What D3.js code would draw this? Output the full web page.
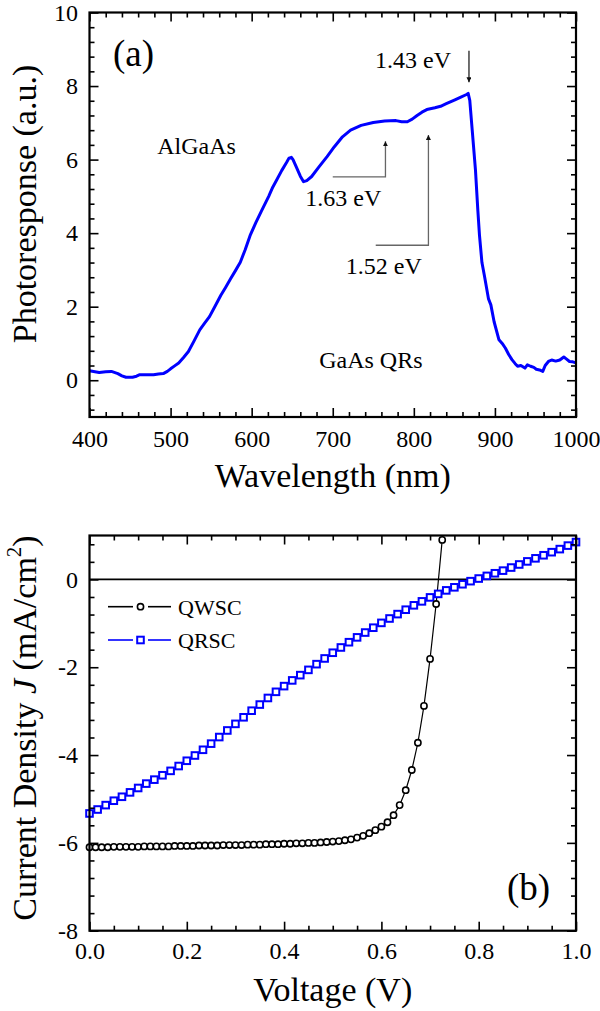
<!DOCTYPE html>
<html><head><meta charset="utf-8">
<script src="https://cdn.jsdelivr.net/npm/d3@7"></script>
<style>
body{margin:0;background:#fff}
svg{display:block}
svg text{font-family:"Liberation Serif","Tinos","Times New Roman","DejaVu Serif","Noto Serif",serif !important;fill:#000}
</style>
</head><body>
<svg id="c" width="600" height="1011" font-family="Liberation Serif, DejaVu Serif, serif"></svg>
<script>
// ---------- Panel (a) data ----------
const wavelength = [400,405,412,420,427,435,440,445,453,458,462,470,479,485,491,496,500,505,510,516,522,529,536,542,548,555,562,568,574,580,586,592,598,605,612,621,626,631,637,643,646,649,651,655,660,664,668,674,683,693,702,712,722,735,750,764,778,785,792,798,804,810,816,826,833,840,850,858,865,867,869,872,876,879,881,884,887,892,895,899,905,909,913,917,921,925,928,932,937,940,944,948,951,955,959,962,966,970,975,980,985,988,992,996,1000];
const photoresponse = [0.26,0.24,0.21,0.23,0.24,0.18,0.12,0.08,0.08,0.11,0.15,0.15,0.15,0.17,0.18,0.24,0.31,0.39,0.47,0.62,0.78,1.07,1.37,1.55,1.73,2.02,2.31,2.53,2.76,2.98,3.21,3.55,3.93,4.28,4.60,5.00,5.25,5.45,5.70,5.92,6.04,6.06,6.00,5.80,5.55,5.40,5.43,5.54,5.80,6.08,6.35,6.62,6.80,6.93,7.01,7.05,7.06,7.03,7.03,7.10,7.20,7.29,7.36,7.41,7.45,7.52,7.62,7.70,7.77,7.80,7.61,6.80,5.72,4.60,3.93,3.20,2.85,2.22,2.05,1.59,1.10,1.00,0.87,0.70,0.56,0.45,0.38,0.40,0.33,0.42,0.38,0.35,0.30,0.28,0.24,0.40,0.51,0.55,0.52,0.55,0.63,0.58,0.51,0.50,0.47];
const wlTicks = [400,500,600,700,800,900,1000];
const wlMinor = [420,440,460,480,520,540,560,580,620,640,660,680,720,740,760,780,820,840,860,880,920,940,960,980];
const prTicks = [0,2,4,6,8,10];
const prMinor = [-0.8,-0.4,0.4,0.8,1.2,1.6,2.4,2.8,3.2,3.6,4.4,4.8,5.2,5.6,6.4,6.8,7.2,7.6,8.4,8.8,9.2,9.6];
// annotations (a): label, text centre (nm, value), arrow path in data units
const annLabels = ["1.43 eV","1.63 eV","1.52 eV"];
const annTextX = [799,713,763];
const annTextY = [8.5,4.75,2.9];
const annArrows = [
  [[868,8.96],[868,8.1]],
  [[700,5.53],[765,5.53],[765,6.5]],
  [[753,3.67],[818,3.67],[818,6.67]]
];
const sideLabels = ["AlGaAs","GaAs QRs"];
const sideX = [532,747];
const sideY = [6.15,0.33];

// ---------- Panel (b) data ----------
const voltsQW = [0,0.0125,0.025,0.0375,0.05,0.0625,0.075,0.0875,0.1,0.1125,0.125,0.1375,0.15,0.1625,0.175,0.1875,0.2,0.2125,0.225,0.2375,0.25,0.2625,0.275,0.2875,0.3,0.3125,0.325,0.3375,0.35,0.3625,0.375,0.3875,0.4,0.4125,0.425,0.4375,0.45,0.4625,0.475,0.4875,0.5,0.5125,0.525,0.5375,0.55,0.5625,0.575,0.5875,0.6,0.6125,0.625,0.6375,0.65,0.6625,0.675,0.6875,0.7,0.7125,0.725];
const jQW = [-6.10,-6.10,-6.10,-6.10,-6.09,-6.09,-6.09,-6.09,-6.09,-6.08,-6.08,-6.08,-6.08,-6.08,-6.07,-6.07,-6.07,-6.07,-6.06,-6.06,-6.06,-6.06,-6.05,-6.05,-6.05,-6.05,-6.04,-6.04,-6.04,-6.03,-6.03,-6.03,-6.02,-6.02,-6.01,-6.01,-6.00,-6.00,-5.99,-5.98,-5.97,-5.96,-5.94,-5.92,-5.88,-5.84,-5.78,-5.71,-5.63,-5.53,-5.37,-5.14,-4.80,-4.34,-3.72,-2.88,-1.81,-0.56,0.90];
const voltsQR = [0,0.0167,0.0333,0.05,0.0667,0.0833,0.1,0.1167,0.1333,0.15,0.1667,0.1833,0.2,0.2167,0.2333,0.25,0.2667,0.2833,0.3,0.3167,0.3333,0.35,0.3667,0.3833,0.4,0.4167,0.4333,0.45,0.4667,0.4833,0.5,0.5167,0.5333,0.55,0.5667,0.5833,0.6,0.6167,0.6333,0.65,0.6667,0.6833,0.7,0.7167,0.7333,0.75,0.7667,0.7833,0.8,0.8167,0.8333,0.85,0.8667,0.8833,0.9,0.9167,0.9333,0.95,0.9667,0.9833,1.0];
const jQR = [-5.33,-5.24,-5.14,-5.04,-4.95,-4.85,-4.75,-4.65,-4.56,-4.46,-4.36,-4.25,-4.13,-4.01,-3.88,-3.74,-3.59,-3.44,-3.29,-3.14,-2.99,-2.85,-2.70,-2.56,-2.43,-2.30,-2.18,-2.06,-1.93,-1.80,-1.67,-1.55,-1.43,-1.32,-1.21,-1.10,-0.99,-0.89,-0.79,-0.69,-0.59,-0.50,-0.41,-0.33,-0.25,-0.18,-0.11,-0.04,0.02,0.08,0.14,0.20,0.27,0.34,0.41,0.48,0.55,0.62,0.69,0.77,0.85];
const vTicks = [0,0.2,0.4,0.6,0.8,1.0];
const vMinor = [0.05,0.1,0.15,0.25,0.3,0.35,0.45,0.5,0.55,0.65,0.7,0.75,0.85,0.9,0.95];
const jTicks = [0,-2,-4,-6,-8];
const jMinor = [0.8,0.4,-0.4,-0.8,-1.2,-1.6,-2.4,-2.8,-3.2,-3.6,-4.4,-4.8,-5.2,-5.6,-6.4,-6.8,-7.2,-7.6];
const seriesNames = ["QWSC","QRSC"];

// ---------- drawing ----------
const svg = d3.select("#c");
const BLUE = "#0000ff";
const FONT = "Liberation Serif, DejaVu Serif, serif";
const L = 89.5, R = 576;

function frameAxes(g, x, y, xT, xMin, yT, yMin, xFmt, yFmt, xPad, yPad) {
  const [y0, y1] = y.range();
  const [x0, x1] = x.range();
  const major = 9, minor = 5;
  const style = s => { s.attr("font-family",FONT); s.select(".domain").remove(); s.selectAll("line").attr("stroke","#000").attr("stroke-width",1.6); s.selectAll("text").attr("font-size",24).attr("font-family",FONT); };
  g.append("g").attr("transform",`translate(0,${y0})`).call(d3.axisBottom(x).tickValues(xT).tickSize(-major).tickPadding(xPad).tickFormat(xFmt)).call(style);
  g.append("g").attr("transform",`translate(0,${y0})`).call(d3.axisBottom(x).tickValues(xMin).tickSize(-minor).tickFormat("")).call(style);
  g.append("g").attr("transform",`translate(0,${y1})`).call(d3.axisTop(x).tickValues(xT).tickSize(-major).tickFormat("")).call(style);
  g.append("g").attr("transform",`translate(0,${y1})`).call(d3.axisTop(x).tickValues(xMin).tickSize(-minor).tickFormat("")).call(style);
  g.append("g").attr("transform",`translate(${x0},0)`).call(d3.axisLeft(y).tickValues(yT).tickSize(-major).tickPadding(yPad).tickFormat(yFmt)).call(style);
  g.append("g").attr("transform",`translate(${x0},0)`).call(d3.axisLeft(y).tickValues(yMin).tickSize(-minor).tickFormat("")).call(style);
  g.append("g").attr("transform",`translate(${x1},0)`).call(d3.axisRight(y).tickValues(yT).tickSize(-major).tickFormat("")).call(style);
  g.append("g").attr("transform",`translate(${x1},0)`).call(d3.axisRight(y).tickValues(yMin).tickSize(-minor).tickFormat("")).call(style);
  g.append("rect").attr("x",x0).attr("y",y1).attr("width",x1-x0).attr("height",y0-y1)
    .attr("fill","none").attr("stroke","#000").attr("stroke-width",2.2);
}
const intFmt = d => String(d);            // hyphen-minus like the original
const oneDec = d => d.toFixed(1);

// ----- Panel (a) -----
const xa = d3.scaleLinear().domain([400,1000]).range([L,R]);
const ya = d3.scaleLinear().domain([-1,10]).range([417,12.5]);
const ga = svg.append("g");
const specData = wavelength.map((w,i)=>[w,photoresponse[i]]);
ga.append("path").datum(specData)
  .attr("d", d3.line().x(d=>xa(d[0])).y(d=>ya(d[1])))
  .attr("fill","none").attr("stroke",BLUE).attr("stroke-width",3).attr("stroke-linejoin","round");
frameAxes(ga, xa, ya, wlTicks, wlMinor, prTicks, prMinor, intFmt, intFmt, 13, 11.5);

const defs = svg.append("defs");
defs.append("marker").attr("id","ah").attr("viewBox","0 0 10 10").attr("refX",10).attr("refY",5)
  .attr("markerWidth",5).attr("markerHeight",5).attr("markerUnits","userSpaceOnUse").attr("orient","auto")
  .append("path").attr("d","M0,0 L10,5 L0,10 Z").attr("fill","#111");
annArrows.forEach((pts,i)=>{
  ga.append("path").attr("d", d3.line().x(d=>xa(d[0])).y(d=>ya(d[1]))(pts))
    .attr("fill","none").attr("stroke", i===0 ? "#222" : "#666").attr("stroke-width",1.3)
    .attr("marker-end","url(#ah)");
});
annLabels.forEach((t,i)=>{
  ga.append("text").attr("x",xa(annTextX[i])).attr("y",ya(annTextY[i])).attr("font-size",24)
    .attr("text-anchor","middle").text(t);
});
sideLabels.forEach((t,i)=>{
  ga.append("text").attr("x",xa(sideX[i])).attr("y",ya(sideY[i])).attr("font-size",24)
    .attr("text-anchor","middle").text(t);
});
ga.append("text").attr("x",113).attr("y",66).attr("font-size",37).text("(a)");
ga.append("text").attr("x",(L+R)/2).attr("y",487).attr("font-size",34).attr("text-anchor","middle").text("Wavelength (nm)");
ga.append("text").attr("transform","translate(36,204) rotate(-90)").attr("font-size",34).attr("text-anchor","middle").text("Photoresponse (a.u.)");

// ----- Panel (b) -----
const xb = d3.scaleLinear().domain([0,1]).range([L,R]);
const yb = d3.scaleLinear().domain([-8,1]).range([930.7,535.5]);
const gb = svg.append("g");
gb.append("line").attr("x1",L).attr("x2",R).attr("y1",yb(0)).attr("y2",yb(0)).attr("stroke","#000").attr("stroke-width",1.6);

const qw = voltsQW.map((v,i)=>[v,jQW[i]]);
const qr = voltsQR.map((v,i)=>[v,jQR[i]]);
const lineB = d3.line().x(d=>xb(d[0])).y(d=>yb(d[1]));
gb.append("path").datum(qw).attr("d",lineB).attr("fill","none").attr("stroke","#000").attr("stroke-width",1.2);
gb.append("path").datum(qr).attr("d",lineB).attr("fill","none").attr("stroke",BLUE).attr("stroke-width",1.2);
gb.selectAll(".qr").data(qr).enter().append("rect")
  .attr("x",d=>xb(d[0])-3.3).attr("y",d=>yb(d[1])-3.3).attr("width",6.6).attr("height",6.6)
  .attr("fill","#fff").attr("stroke",BLUE).attr("stroke-width",2);
gb.selectAll(".qw").data(qw).enter().append("circle")
  .attr("cx",d=>xb(d[0])).attr("cy",d=>yb(d[1])).attr("r",3.1)
  .attr("fill","#fff").attr("stroke","#000").attr("stroke-width",1.6);

frameAxes(gb, xb, yb, vTicks, vMinor, jTicks, jMinor, oneDec, intFmt, 11, 11.5);

const legY = [606.7, 640];
const legCol = ["#000", BLUE];
seriesNames.forEach((n,i)=>{
  const y = legY[i];
  gb.append("line").attr("x1",108).attr("x2",133).attr("y1",y).attr("y2",y).attr("stroke",legCol[i]).attr("stroke-width",1.6);
  gb.append("line").attr("x1",148).attr("x2",171).attr("y1",y).attr("y2",y).attr("stroke",legCol[i]).attr("stroke-width",1.6);
  if(i===0){
    gb.append("circle").attr("cx",140.5).attr("cy",y).attr("r",3.1).attr("fill","#fff").attr("stroke","#000").attr("stroke-width",1.6);
  } else {
    gb.append("rect").attr("x",137.2).attr("y",y-3.3).attr("width",6.6).attr("height",6.6).attr("fill","#fff").attr("stroke",BLUE).attr("stroke-width",2);
  }
  gb.append("text").attr("x",178).attr("y",y+8).attr("font-size",22).text(n);
});
gb.append("text").attr("x",507).attr("y",900).attr("font-size",37).text("(b)");
gb.append("text").attr("x",(L+R)/2).attr("y",1001).attr("font-size",34).attr("text-anchor","middle").text("Voltage (V)");
const yt = gb.append("text").attr("transform","translate(36,728) rotate(-90)").attr("font-size",34).attr("text-anchor","middle");
yt.append("tspan").text("Current Density ");
yt.append("tspan").attr("font-style","italic").text("J");
yt.append("tspan").text(" (mA/cm");
yt.append("tspan").attr("font-size",21).attr("dy",-15).text("2");
yt.append("tspan").attr("dy",15).text(")");
</script>
</body></html>
